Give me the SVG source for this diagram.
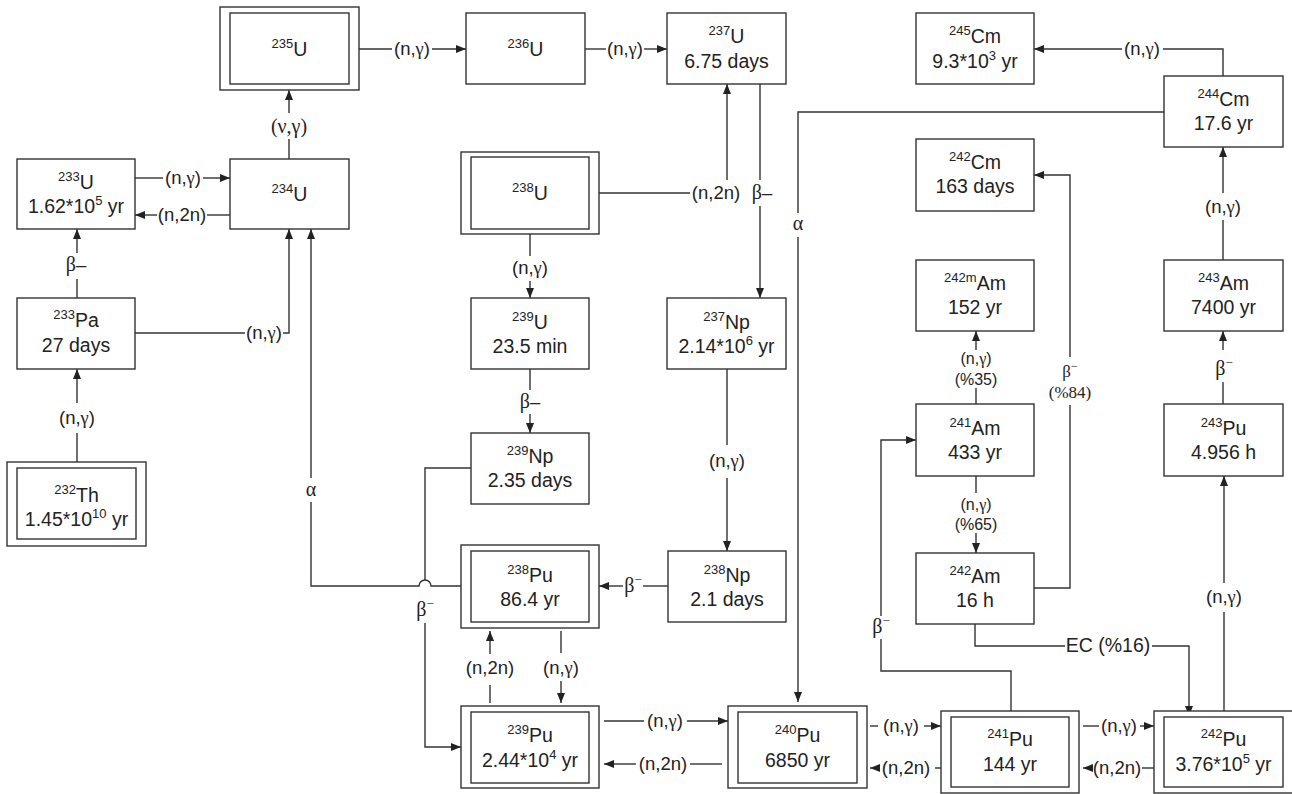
<svg xmlns="http://www.w3.org/2000/svg" width="1292" height="794" viewBox="0 0 1292 794">
<style>
.bx{fill:#fff;stroke:#333;stroke-width:1.4}
.ln{fill:none;stroke:#333;stroke-width:1.4}
.ar{marker-end:url(#ah)}
.t{font-family:"Liberation Sans",Arial,sans-serif;font-size:19.5px;fill:#222;text-anchor:middle}
.sup{font-size:13px}
.lb{font-family:"Liberation Sans",Arial,sans-serif;font-size:18.5px;fill:#222;text-anchor:middle}
.sm{font-size:16px}
.g{font-family:"Liberation Serif","Times New Roman",serif}
.sf{font-family:"Liberation Serif","Times New Roman",serif;font-size:17px;fill:#222;text-anchor:middle}
.big{font-size:20px}
</style>
<defs>
<marker id="ah" viewBox="0 0 10 8" refX="10" refY="4" markerWidth="10" markerHeight="8" markerUnits="userSpaceOnUse" orient="auto"><path d="M0,0 L10,4 L0,8 z" fill="#222"/></marker>
</defs>
<rect width="1292" height="794" fill="#fff"/>

<g id="connectors">
<path class="ln" d="M359,49 H392"/><path class="ln ar" d="M432,49 H466"/>
<text class="lb" x="412" y="55">(n,<tspan class="g">γ</tspan>)</text>
<path class="ln" d="M585,49 H606"/><path class="ln ar" d="M644,49 H667"/>
<text class="lb" x="625" y="55">(n,<tspan class="g">γ</tspan>)</text>
<path class="ln" d="M135,178 H163"/><path class="ln ar" d="M203,178 H230"/>
<text class="lb" x="183" y="184">(n,<tspan class="g">γ</tspan>)</text>
<path class="ln" d="M230,215 H207"/><path class="ln ar" d="M157,215 H135"/>
<text class="lb" x="182" y="221">(n,2n)</text>
<path class="ln" d="M289,159 V139"/><path class="ln ar" d="M289,113 V90"/>
<text class="sf big" x="289" y="133">(ν,γ)</text>
<path class="ln" d="M77,462 V433"/><path class="ln ar" d="M77,403 V369"/>
<text class="lb" x="77" y="424">(n,<tspan class="g">γ</tspan>)</text>
<path class="ln" d="M77,298 V279"/><path class="ln ar" d="M77,253 V229"/>
<text class="lb" x="76" y="271"><tspan class="g" font-size="20">β</tspan>–</text>
<path class="ln" d="M135,333 H245"/><path class="ln ar" d="M283,333 H289 V229"/>
<text class="lb" x="264" y="339">(n,<tspan class="g">γ</tspan>)</text>
<path class="ln" d="M471,586 H431 A6,6 0 0 0 419,586 H311 V502"/><path class="ln ar" d="M311,478 V229"/>
<text class="sf big" x="311" y="496">α</text>
<path class="ln" d="M471,468 H425 V580"/><path class="ln ar" d="M425,623 V747 H461"/>
<text class="sf big" x="425" y="616">β<tspan font-size="13" dy="-8">−</tspan></text>
<path class="ln" d="M530,234 V256"/><path class="ln ar" d="M530,281 V298"/>
<text class="lb" x="530" y="274">(n,<tspan class="g">γ</tspan>)</text>
<path class="ln" d="M530,369 V390"/><path class="ln ar" d="M530,414 V433"/>
<text class="lb" x="530" y="408"><tspan class="g" font-size="20">β</tspan>–</text>
<path class="ln" d="M599,193 H690"/><path class="ln ar" d="M727,180 V84"/>
<text class="lb" x="716" y="199">(n,2n)</text>
<path class="ln" d="M760,84 V180"/><path class="ln ar" d="M760,206 V298"/>
<text class="lb" x="762" y="199"><tspan class="g" font-size="20">β</tspan>–</text>
<path class="ln" d="M727,369 V445"/><path class="ln ar" d="M727,478 V551"/>
<text class="lb" x="727" y="467">(n,<tspan class="g">γ</tspan>)</text>
<path class="ln" d="M668,586 H643"/><path class="ln ar" d="M623,586 H599"/>
<text class="sf big" x="633" y="592">β<tspan font-size="13" dy="-8">−</tspan></text>
<path class="ln" d="M561,631 V653"/><path class="ln ar" d="M561,681 V703"/>
<text class="lb" x="561" y="674">(n,<tspan class="g">γ</tspan>)</text>
<path class="ln" d="M490,703 V685"/><path class="ln ar" d="M490,654 V631"/>
<text class="lb" x="490" y="674">(n,2n)</text>
<path class="ln" d="M604,721 H644"/><path class="ln ar" d="M687,721 H728"/>
<text class="lb" x="665" y="727">(n,<tspan class="g">γ</tspan>)</text>
<path class="ln" d="M722,764 H690"/><path class="ln ar" d="M636,764 H604"/>
<text class="lb" x="663" y="770">(n,2n)</text>
<path class="ln" d="M870,726 H878"/><path class="ln ar" d="M924,726 H941"/>
<text class="lb" x="901" y="732">(n,<tspan class="g">γ</tspan>)</text>
<path class="ln" d="M941,768 H935"/><path class="ln ar" d="M878,768 H870"/>
<text class="lb" x="906" y="774">(n,2n)</text>
<path class="ln" d="M1083,726 H1099"/><path class="ln ar" d="M1140,726 H1154"/>
<text class="lb" x="1119" y="732">(n,<tspan class="g">γ</tspan>)</text>
<path class="ln" d="M1154,768 H1142"/><path class="ln ar" d="M1092,768 H1083"/>
<text class="lb" x="1117" y="774">(n,2n)</text>
<path class="ln" d="M1224,711 V612"/><path class="ln ar" d="M1224,583 V476"/>
<text class="lb" x="1224" y="603">(n,<tspan class="g">γ</tspan>)</text>
<path class="ln" d="M1223,404 V382"/><path class="ln ar" d="M1223,350 V331"/>
<text class="sf big" x="1224" y="375">β<tspan font-size="13" dy="-8">−</tspan></text>
<path class="ln" d="M1223,260 V220"/><path class="ln ar" d="M1223,193 V147"/>
<text class="lb" x="1223" y="213">(n,<tspan class="g">γ</tspan>)</text>
<path class="ln" d="M1223,76 V49 H1163"/><path class="ln ar" d="M1122,49 H1034"/>
<text class="lb" x="1142" y="55">(n,<tspan class="g">γ</tspan>)</text>
<path class="ln" d="M1164,112 H798 V213"/><path class="ln ar" d="M798,237 V702"/>
<text class="sf big" x="798" y="230">α</text>
<path class="ln" d="M976,404 V388"/><path class="ln ar" d="M976,350 V331"/>
<text class="lb sm" x="976" y="364">(n,<tspan class="g">γ</tspan>)</text>
<text class="lb sm" x="976" y="385">(%35)</text>
<path class="ln" d="M976,476 V493"/><path class="ln ar" d="M976,533 V553"/>
<text class="lb sm" x="976" y="510">(n,<tspan class="g">γ</tspan>)</text>
<text class="lb sm" x="976" y="530">(%65)</text>
<path class="ln" d="M1034,588 H1070 V405"/><path class="ln ar" d="M1070,357 V175 H1034"/>
<text class="sf" x="1070" y="377" font-size="18">β<tspan font-size="12" dy="-7">−</tspan></text>
<text class="sf" x="1070" y="398">(%84)</text>
<path class="ln" d="M975,624 V646 H1065"/><path class="ln ar" d="M1152,646 H1189 V716"/>
<text class="lb" x="1108" y="652" style="font-size:19.5px">EC (%16)</text>
<path class="ln" d="M1011,711 V671 H881 V639"/><path class="ln ar" d="M881,616 V440 H916"/>
<text class="sf big" x="881" y="633">β<tspan font-size="13" dy="-8">−</tspan></text>
</g>

<g id="U235"><rect class="bx" x="220" y="7" width="139" height="83"/><rect class="bx" x="230" y="13" width="119" height="71"/>
<text class="t" x="289.5" y="56"><tspan class="sup" dy="-8">235</tspan><tspan dy="8">U</tspan></text></g>
<g id="U236"><rect class="bx" x="466" y="13" width="119" height="71"/>
<text class="t" x="525.5" y="56"><tspan class="sup" dy="-8">236</tspan><tspan dy="8">U</tspan></text></g>
<g id="U237"><rect class="bx" x="667" y="13" width="119" height="71"/>
<text class="t" x="726.5" y="43"><tspan class="sup" dy="-8">237</tspan><tspan dy="8">U</tspan></text>
<text class="t" x="726.5" y="68">6.75 days</text></g>
<g id="Cm245"><rect class="bx" x="916" y="13" width="118" height="71"/>
<text class="t" x="975" y="43"><tspan class="sup" dy="-8">245</tspan><tspan dy="8">Cm</tspan></text>
<text class="t" x="975" y="68">9.3*10<tspan class="sup" dy="-8">3</tspan><tspan dy="8"> yr</tspan></text></g>
<g id="U233"><rect class="bx" x="17" y="159" width="118" height="70"/>
<text class="t" x="76" y="189"><tspan class="sup" dy="-8">233</tspan><tspan dy="8">U</tspan></text>
<text class="t" x="76" y="213">1.62*10<tspan class="sup" dy="-8">5</tspan><tspan dy="8"> yr</tspan></text></g>
<g id="U234"><rect class="bx" x="230" y="159" width="119" height="70"/>
<text class="t" x="289.5" y="201"><tspan class="sup" dy="-8">234</tspan><tspan dy="8">U</tspan></text></g>
<g id="U238"><rect class="bx" x="461" y="152" width="138" height="82"/><rect class="bx" x="471" y="157" width="118" height="72"/>
<text class="t" x="530" y="200"><tspan class="sup" dy="-8">238</tspan><tspan dy="8">U</tspan></text></g>
<g id="Cm244"><rect class="bx" x="1164" y="76" width="119" height="71"/>
<text class="t" x="1223.5" y="106"><tspan class="sup" dy="-8">244</tspan><tspan dy="8">Cm</tspan></text>
<text class="t" x="1223.5" y="130">17.6 yr</text></g>
<g id="Cm242"><rect class="bx" x="916" y="139" width="118" height="72"/>
<text class="t" x="975" y="169"><tspan class="sup" dy="-8">242</tspan><tspan dy="8">Cm</tspan></text>
<text class="t" x="975" y="193">163 days</text></g>
<g id="Pa233"><rect class="bx" x="17" y="298" width="118" height="71"/>
<text class="t" x="76" y="327"><tspan class="sup" dy="-8">233</tspan><tspan dy="8">Pa</tspan></text>
<text class="t" x="76" y="352">27 days</text></g>
<g id="U239"><rect class="bx" x="471" y="298" width="118" height="71"/>
<text class="t" x="530" y="329"><tspan class="sup" dy="-8">239</tspan><tspan dy="8">U</tspan></text>
<text class="t" x="530" y="353">23.5 min</text></g>
<g id="Np237"><rect class="bx" x="667" y="298" width="119" height="71"/>
<text class="t" x="726.5" y="329"><tspan class="sup" dy="-8">237</tspan><tspan dy="8">Np</tspan></text>
<text class="t" x="726.5" y="353">2.14*10<tspan class="sup" dy="-8">6</tspan><tspan dy="8"> yr</tspan></text></g>
<g id="Am242m"><rect class="bx" x="916" y="260" width="118" height="71"/>
<text class="t" x="975" y="290"><tspan class="sup" dy="-8">242m</tspan><tspan dy="8">Am</tspan></text>
<text class="t" x="975" y="314">152 yr</text></g>
<g id="Am243"><rect class="bx" x="1164" y="260" width="119" height="71"/>
<text class="t" x="1223.5" y="290"><tspan class="sup" dy="-8">243</tspan><tspan dy="8">Am</tspan></text>
<text class="t" x="1223.5" y="314">7400 yr</text></g>
<g id="Am241"><rect class="bx" x="916" y="404" width="118" height="72"/>
<text class="t" x="975" y="435"><tspan class="sup" dy="-8">241</tspan><tspan dy="8">Am</tspan></text>
<text class="t" x="975" y="459">433 yr</text></g>
<g id="Pu243"><rect class="bx" x="1164" y="404" width="119" height="72"/>
<text class="t" x="1223.5" y="435"><tspan class="sup" dy="-8">243</tspan><tspan dy="8">Pu</tspan></text>
<text class="t" x="1223.5" y="459">4.956 h</text></g>
<g id="Np239"><rect class="bx" x="471" y="433" width="118" height="71"/>
<text class="t" x="530" y="463"><tspan class="sup" dy="-8">239</tspan><tspan dy="8">Np</tspan></text>
<text class="t" x="530" y="487">2.35 days</text></g>
<g id="Th232"><rect class="bx" x="7" y="462" width="139" height="84"/><rect class="bx" x="17" y="468" width="119" height="71"/>
<text class="t" x="76.5" y="502"><tspan class="sup" dy="-8">232</tspan><tspan dy="8">Th</tspan></text>
<text class="t" x="76.5" y="526">1.45*10<tspan class="sup" dy="-8">10</tspan><tspan dy="8"> yr</tspan></text></g>
<g id="Pu238"><rect class="bx" x="461" y="545" width="138" height="83"/><rect class="bx" x="471" y="551" width="118" height="71"/>
<text class="t" x="530" y="582"><tspan class="sup" dy="-8">238</tspan><tspan dy="8">Pu</tspan></text>
<text class="t" x="530" y="606">86.4 yr</text></g>
<g id="Np238"><rect class="bx" x="668" y="551" width="118" height="71"/>
<text class="t" x="727" y="582"><tspan class="sup" dy="-8">238</tspan><tspan dy="8">Np</tspan></text>
<text class="t" x="727" y="606">2.1 days</text></g>
<g id="Am242"><rect class="bx" x="916" y="553" width="118" height="71"/>
<text class="t" x="975" y="583"><tspan class="sup" dy="-8">242</tspan><tspan dy="8">Am</tspan></text>
<text class="t" x="975" y="607">16 h</text></g>
<g id="Pu239"><rect class="bx" x="461" y="706" width="138" height="82"/><rect class="bx" x="471" y="712" width="118" height="71"/>
<text class="t" x="530" y="742"><tspan class="sup" dy="-8">239</tspan><tspan dy="8">Pu</tspan></text>
<text class="t" x="530" y="767">2.44*10<tspan class="sup" dy="-8">4</tspan><tspan dy="8"> yr</tspan></text></g>
<g id="Pu240"><rect class="bx" x="728" y="706" width="139" height="82"/><rect class="bx" x="738" y="712" width="119" height="71"/>
<text class="t" x="797.5" y="742"><tspan class="sup" dy="-8">240</tspan><tspan dy="8">Pu</tspan></text>
<text class="t" x="797.5" y="767">6850 yr</text></g>
<g id="Pu241"><rect class="bx" x="941" y="711" width="138" height="82"/><rect class="bx" x="951" y="717" width="118" height="70"/>
<text class="t" x="1010" y="746"><tspan class="sup" dy="-8">241</tspan><tspan dy="8">Pu</tspan></text>
<text class="t" x="1010" y="771">144 yr</text></g>
<g id="Pu242"><rect class="bx" x="1154" y="711" width="146" height="82"/><rect class="bx" x="1164" y="717" width="119" height="70"/>
<text class="t" x="1223.5" y="746"><tspan class="sup" dy="-8">242</tspan><tspan dy="8">Pu</tspan></text>
<text class="t" x="1223.5" y="771">3.76*10<tspan class="sup" dy="-8">5</tspan><tspan dy="8"> yr</tspan></text></g>
</svg>
